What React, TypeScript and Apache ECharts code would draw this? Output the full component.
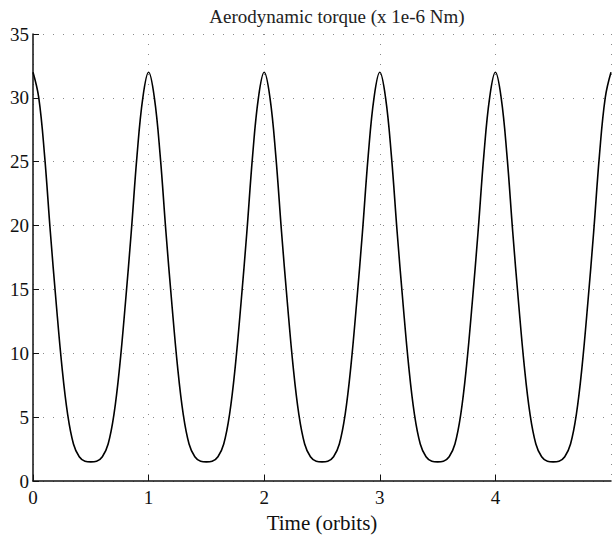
import React, { useEffect, useRef } from "react";
import * as echarts from "echarts";

const titleText = "Aerodynamic torque (x 1e-6 Nm)";
const xAxisName = "Time (orbits)";
const timeStep = 0.05;
const torque: number[] = [
  32, 30.0, 25.5, 19.5, 14.0, 9.0, 5.2, 2.9, 1.9, 1.55, 1.5, 1.55, 1.9, 2.9, 5.2, 9.0, 14.0, 19.5, 25.5, 30.0,
  32, 30.0, 25.5, 19.5, 14.0, 9.0, 5.2, 2.9, 1.9, 1.55, 1.5, 1.55, 1.9, 2.9, 5.2, 9.0, 14.0, 19.5, 25.5, 30.0,
  32, 30.0, 25.5, 19.5, 14.0, 9.0, 5.2, 2.9, 1.9, 1.55, 1.5, 1.55, 1.9, 2.9, 5.2, 9.0, 14.0, 19.5, 25.5, 30.0,
  32, 30.0, 25.5, 19.5, 14.0, 9.0, 5.2, 2.9, 1.9, 1.55, 1.5, 1.55, 1.9, 2.9, 5.2, 9.0, 14.0, 19.5, 25.5, 30.0,
  32, 30.0, 25.5, 19.5, 14.0, 9.0, 5.2, 2.9, 1.9, 1.55, 1.5, 1.55, 1.9, 2.9, 5.2, 9.0, 14.0, 19.5, 25.5, 30.0,
  32,
];
const xTicks = [0, 1, 2, 3, 4, 5];
const yTicks = [0, 5, 10, 15, 20, 25, 30, 35];

export default function App() {
  const ref = useRef<HTMLDivElement>(null);
  useEffect(() => {
    if (!ref.current) return;
    const chart = echarts.init(ref.current, undefined, { renderer: "svg" });
    const data = torque.map((v, i) => [Number((i * timeStep).toFixed(2)), v]);
    const font = "'Liberation Serif', 'DejaVu Serif', serif";
    const gridStyle = { color: "#8a8a8a", type: [1, 9] as number[], width: 1 };
    chart.setOption({
      animation: false,
      backgroundColor: "#ffffff",
      title: {
        text: titleText,
        left: 332,
        top: 2,
        textAlign: "center",
        textStyle: { fontFamily: font, fontSize: 19, fontWeight: "normal", color: "#222" },
      },
      grid: { left: 33, right: 1, top: 34, bottom: 57, containLabel: false },
      xAxis: {
        type: "value",
        min: xTicks[0],
        max: xTicks[xTicks.length - 1],
        interval: 1,
        name: xAxisName,
        nameLocation: "middle",
        nameGap: 31,
        nameTextStyle: { fontFamily: font, fontSize: 21, color: "#111" },
        axisLine: { show: true, lineStyle: { color: "#111", width: 1.5 } },
        axisTick: { show: true, inside: true, length: 6, lineStyle: { color: "#111" } },
        axisLabel: {
          fontFamily: font,
          fontSize: 19,
          color: "#111",
          margin: 7,
          showMaxLabel: false,
          formatter: (v: number) => (v === 5 ? "" : String(v)),
        },
        splitLine: { show: true, lineStyle: gridStyle },
      },
      yAxis: {
        type: "value",
        min: yTicks[0],
        max: yTicks[yTicks.length - 1],
        interval: 5,
        axisLine: { show: true, lineStyle: { color: "#111", width: 1.5 } },
        axisTick: { show: true, inside: true, length: 6, lineStyle: { color: "#111" } },
        axisLabel: { fontFamily: font, fontSize: 19, color: "#111", margin: 4 },
        splitLine: { show: true, lineStyle: gridStyle },
      },
      series: [
        {
          type: "line",
          data,
          smooth: 0.4,
          showSymbol: false,
          lineStyle: { color: "#000", width: 1.6 },
        },
      ],
    });
    return () => chart.dispose();
  }, []);
  return (
    <div
      ref={ref}
      style={{ position: "absolute", left: 0, top: 0, width: 612, height: 538 }}
    />
  );
}
